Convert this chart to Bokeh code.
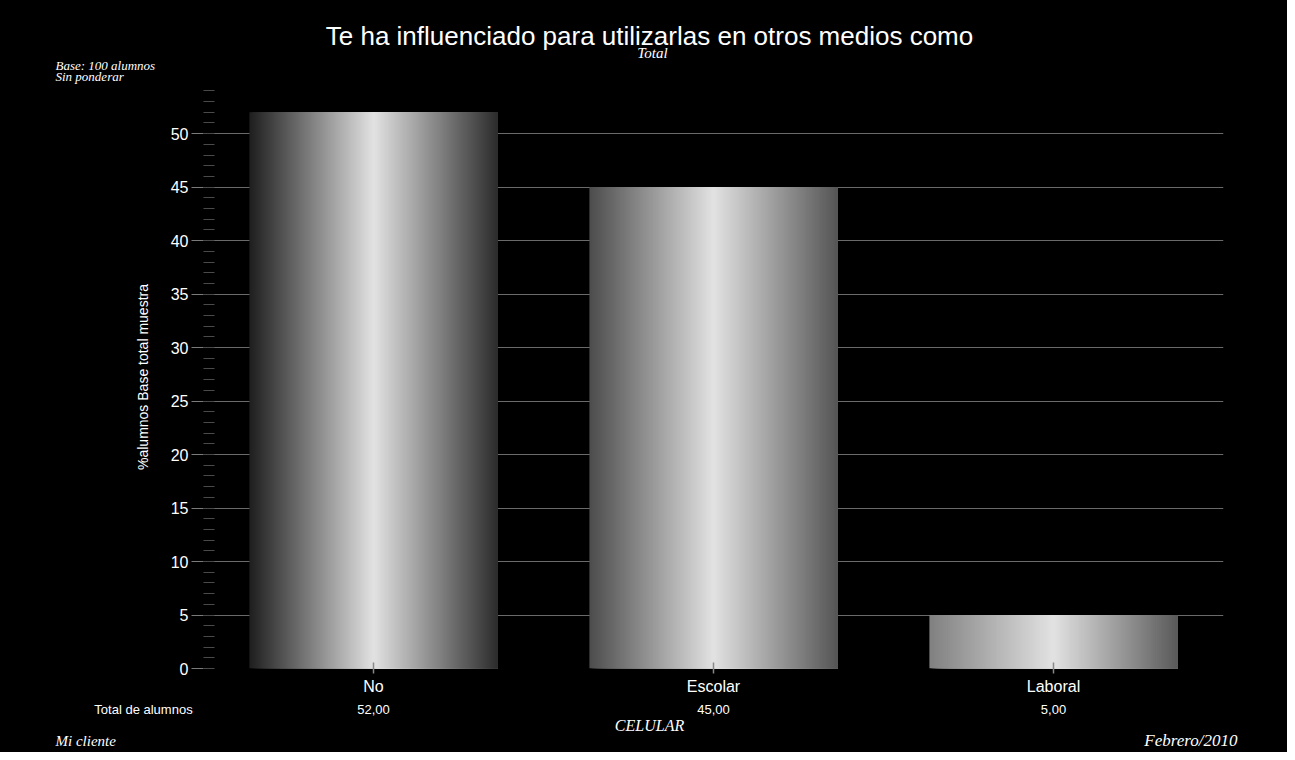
import numpy as np
from bokeh.plotting import figure
from bokeh.layouts import column
from bokeh.core.properties import value
from bokeh.models import Range1d, SingleIntervalTicker, FixedTicker, Label, LabelSet, ColumnDataSource
from bokeh.embed import file_html
from bokeh.resources import INLINE

# ---- data ----
categories = ["No", "Escolar", "Laboral"]
values = [52.0, 45.0, 5.0]
row_label = "Total de alumnos"
title_text = "Te ha influenciado para utilizarlas en otros medios como"
subtitle_text = "Total"
base_lines = ["Base: 100 alumnos", "Sin ponderar"]
y_axis_title = "%alumnos Base total muestra"
x_axis_title = "CELULAR"
footer_left = "Mi cliente"
footer_right = "Febrero/2010"

# ---- style / layout ----
SANS = "Liberation Sans"
SERIF = "Liberation Serif"
edge_colors = [(0x1e, 0x2c), (0x4c, 0x55), (0x80, 0x5a)]  # (left, right) grey levels per bar
center_level = 0xe2
bar_width = 0.73

W = 1287
FRAME_L, FRAME_R = 203, 1223
TOP_H = 85
MAIN_H = 615
BOT_H = 52
PX_PER_CAT = (FRAME_R - FRAME_L) / len(categories)
full_x = (-FRAME_L / PX_PER_CAT, (W - FRAME_L) / PX_PER_CAT)
BLACK = {"background-color": "black"}


def blank(height):
    f = figure(width=W, height=height, output_backend="svg", toolbar_location=None,
               x_range=Range1d(*full_x), y_range=Range1d(height, 0),
               min_border=0, min_border_left=0, min_border_right=0,
               min_border_top=0, min_border_bottom=0, frame_align=False,
               outline_line_color=None,
               background_fill_color="black", border_fill_color="black")
    f.axis.visible = False
    f.grid.visible = False
    f.styles = BLACK
    return f


def lab(f, x, y, text, size, align="left", serif=False, italic=False):
    f.add_layout(Label(x=x, y=y, text=text, text_color="white",
                       text_font=SERIF if serif else SANS,
                       text_font_style="italic" if italic else "normal",
                       text_font_size=size, text_align=align, text_baseline="middle"))


def xpx(px):
    return (px - FRAME_L) / PX_PER_CAT

# ---- top strip ----
top = blank(TOP_H)
lab(top, xpx(649), 35, title_text, "26px", align="center")
lab(top, xpx(652), 52, subtitle_text, "15px", align="center", serif=True, italic=True)
lab(top, xpx(55), 65, base_lines[0], "13px", serif=True, italic=True)
lab(top, xpx(55), 76, base_lines[1], "13px", serif=True, italic=True)

# ---- main chart ----
p = figure(width=W, height=MAIN_H, output_backend="svg", toolbar_location=None,
           x_range=Range1d(0, len(categories)), y_range=Range1d(0, 54.5),
           min_border_left=FRAME_L, min_border_right=W - FRAME_R,
           min_border_top=0, min_border_bottom=32, frame_align=False,
           outline_line_color=None,
           background_fill_color="black", border_fill_color="black")
p.styles = BLACK

n = 124
lefts, rights, tops, colors = [], [], [], []
for i, v in enumerate(values):
    c = i + 0.5
    l0 = c - bar_width / 2
    r0 = c + bar_width / 2
    L, R = edge_colors[i]
    for k in range(n):
        t = (k + 0.5) / n
        if t < 0.5:
            g = L + (center_level - L) * (t / 0.5)
        else:
            g = center_level + (R - center_level) * ((t - 0.5) / 0.5)
        g = int(round(g))
        lefts.append(l0 + k * (r0 - l0) / n)
        rights.append(r0)
        tops.append(v)
        colors.append("#%02x%02x%02x" % (g, g, g))
p.quad(left=lefts, right=rights, bottom=0, top=tops, fill_color=colors, line_color=None)

p.xgrid.visible = False
p.ygrid.grid_line_color = "#6a6a6a"
p.ygrid.grid_line_width = 1

ya = p.yaxis[0]
ya.ticker = SingleIntervalTicker(interval=5, num_minor_ticks=5)
ya.axis_line_color = None
ya.major_tick_line_color = "#7a7a7a"
ya.major_tick_out = 12
ya.major_tick_in = 0
ya.minor_tick_line_color = "#4a4a4a"
ya.minor_tick_in = 11
ya.minor_tick_out = 0
ya.major_label_text_color = "white"
ya.major_label_text_font = SANS
ya.major_label_text_font_size = "16px"
ya.major_label_standoff = 3
ya.axis_label = y_axis_title
ya.axis_label_text_color = "white"
ya.axis_label_text_font = SANS
ya.axis_label_text_font_size = "14px"
ya.axis_label_text_font_style = "normal"
ya.axis_label_standoff = 17

xa = p.xaxis[0]
centers = [i + 0.5 for i in range(len(categories))]
xa.ticker = FixedTicker(ticks=centers)
xa.major_label_overrides = {c: cat for c, cat in zip(centers, categories)}
xa.axis_line_color = None
xa.minor_tick_line_color = None
xa.major_tick_line_color = "#888888"
xa.major_tick_line_width = 1.5
xa.major_tick_in = 6
xa.major_tick_out = 5
xa.major_label_text_color = "white"
xa.major_label_text_font = SANS
xa.major_label_text_font_size = "16px"
xa.major_label_standoff = 4

# ---- bottom strip ----
bot = blank(BOT_H)
src = ColumnDataSource(dict(x=centers, y=[9] * len(values),
                            text=[("%.2f" % v).replace(".", ",") for v in values]))
bot.add_layout(LabelSet(x="x", y="y", text="text", source=src, text_color="white",
                        text_font=value(SANS), text_font_size="13px", text_align="center",
                        text_baseline="middle"))
lab(bot, xpx(143), 9, row_label, "13px", align="center")
lab(bot, xpx(649), 25, x_axis_title, "16px", align="center", serif=True, italic=True)
lab(bot, xpx(55), 40, footer_left, "15px", serif=True, italic=True)
lab(bot, xpx(1237), 40, footer_right, "17px", align="right", serif=True, italic=True)

layout = column(top, p, bot, spacing=0, styles=BLACK)
open("out.html", "w").write(file_html(layout, INLINE))
